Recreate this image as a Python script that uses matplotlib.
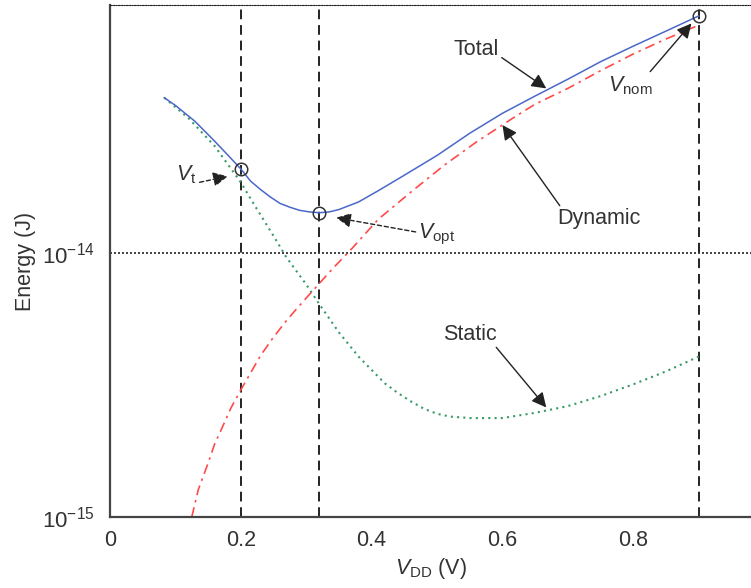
import matplotlib
matplotlib.use("Agg")
import matplotlib.pyplot as plt

plt.rcParams['font.family'] = ['Liberation Sans', 'DejaVu Sans']
plt.rcParams['mathtext.fontset'] = 'custom'
plt.rcParams['mathtext.rm'] = 'Liberation Sans'
plt.rcParams['mathtext.it'] = 'Liberation Sans:italic'

# energy per operation vs supply voltage (J)
total_v = [0.083, 0.10, 0.13, 0.16, 0.18, 0.20, 0.215, 0.23, 0.245, 0.26, 0.275,
           0.29, 0.305, 0.32, 0.335, 0.35, 0.38, 0.41, 0.45, 0.50, 0.55, 0.60,
           0.65, 0.70, 0.75, 0.80, 0.85, 0.90]
total_e = [3.87e-14, 3.62e-14, 3.15e-14, 2.65e-14, 2.35e-14, 2.08e-14, 1.87e-14,
           1.74e-14, 1.63e-14, 1.54e-14, 1.49e-14, 1.45e-14, 1.43e-14, 1.42e-14,
           1.43e-14, 1.46e-14, 1.56e-14, 1.72e-14, 1.97e-14, 2.34e-14, 2.84e-14,
           3.38e-14, 3.93e-14, 4.55e-14, 5.30e-14, 6.07e-14, 6.92e-14, 7.90e-14]

dyn_v = [0.125, 0.135, 0.15, 0.16, 0.17, 0.185, 0.20, 0.23, 0.25, 0.27, 0.285,
         0.30, 0.34, 0.37, 0.41, 0.46, 0.51, 0.56, 0.62, 0.65, 0.70, 0.75, 0.80,
         0.85, 0.895]
dyn_e = [1.0e-15, 1.27e-15, 1.6e-15, 1.89e-15, 2.14e-15, 2.59e-15, 3.03e-15,
         4.08e-15, 4.8e-15, 5.55e-15, 6.13e-15, 6.75e-15, 8.7e-15, 1.04e-14,
         1.34e-14, 1.70e-14, 2.14e-14, 2.63e-14, 3.29e-14, 3.66e-14, 4.20e-14,
         4.90e-14, 5.67e-14, 6.46e-14, 7.20e-14]

static_v = [0.083, 0.12, 0.16, 0.20, 0.22, 0.25, 0.27, 0.30, 0.32, 0.35, 0.38,
            0.42, 0.44, 0.46, 0.48, 0.50, 0.52, 0.55, 0.60, 0.65, 0.70, 0.75,
            0.80, 0.85, 0.90]
static_e = [3.87e-14, 3.24e-14, 2.54e-14, 1.85e-14, 1.53e-14, 1.16e-14, 9.6e-15,
            7.6e-15, 6.4e-15, 5.0e-15, 4.05e-15, 3.21e-15, 2.95e-15, 2.74e-15,
            2.57e-15, 2.46e-15, 2.40e-15, 2.37e-15, 2.37e-15, 2.48e-15, 2.63e-15,
            2.87e-15, 3.18e-15, 3.56e-15, 4.05e-15]

# marked operating points: threshold, optimum, nominal
mark_v = [0.20, 0.32, 0.90]
mark_e = [2.08e-14, 1.42e-14, 7.90e-14]

xticks = [0, 0.2, 0.4, 0.6, 0.8]
yticks = [1e-15, 1e-14]
ytick_labels = [r'$10^{-15}$', r'$10^{-14}$']

txt = '#333333'

fig = plt.figure(figsize=(7.51, 5.88), dpi=100)
ax = fig.add_axes([110 / 751, 71 / 588, 641 / 751, 512 / 588])
ax.set_yscale('log')
ax.set_xlim(0, 0.98)
ax.set_ylim(1e-15, 8.69e-14)

# reference lines
for v in mark_v:
    ax.axvline(v, color='#222222', lw=1.4, linestyle=(0, (5, 3)), zorder=1)
ax.axhline(1e-14, color='#222222', lw=1.2, linestyle=(0, (1.2, 1.2)), zorder=1)

ax.plot(static_v, static_e, color='#3a9a68', lw=1.5, linestyle=(0, (1, 2)), zorder=2)
ax.plot(dyn_v, dyn_e, color='#ff4a4a', lw=1.2, linestyle=(0, (6, 3, 1.5, 3)), zorder=2)
ax.plot(total_v, total_e, color='#4a68c8', lw=1.1, zorder=3)
ax.plot(mark_v, mark_e, 'o', ms=9, mfc='none', mec='#333333', mew=1.1, zorder=4)

# curve labels
arrow = dict(arrowstyle='-|>', color='#222222', lw=1.0, mutation_scale=22,
             shrinkA=0, shrinkB=0)
arrow_dash = dict(arrow, linestyle=(0, (3, 2)))

ax.annotate('Total', xy=(0.667, 4.2e-14), xytext=(0.56, 5.9e-14),
            fontsize=15.5, color=txt, ha='center', va='center',
            arrowprops=dict(arrow, relpos=(1.0, 0.2)))
ax.annotate('Dynamic', xy=(0.60, 3.05e-14), xytext=(0.748, 1.345e-14),
            fontsize=15.5, color=txt, ha='center', va='center',
            arrowprops=dict(arrow, relpos=(0.05, 1.0)))
ax.annotate('Static', xy=(0.667, 2.6e-15), xytext=(0.55, 4.93e-15),
            fontsize=15.5, color=txt, ha='center', va='center',
            arrowprops=dict(arrow, relpos=(0.95, 0.0)))
ax.annotate(r'$V_{\mathrm{nom}}$', xy=(0.889, 7.4e-14), xytext=(0.795, 4.3e-14),
            fontsize=15.5, color=txt, ha='center', va='center',
            arrowprops=dict(arrow, relpos=(0.9, 1.0)))
ax.annotate(r'$V_{\mathrm{opt}}$', xy=(0.346, 1.36e-14), xytext=(0.50, 1.17e-14),
            fontsize=15.5, color=txt, ha='center', va='center',
            arrowprops=dict(arrow_dash, relpos=(0.0, 0.6)))
ax.annotate(r'$V_{\mathrm{t}}$', xy=(0.18, 1.95e-14), xytext=(0.117, 1.97e-14),
            fontsize=15.5, color=txt, ha='center', va='center',
            arrowprops=dict(arrow_dash, relpos=(0.95, 0.15)))

ax.set_xticks(xticks)
ax.set_xticklabels([f'{t:g}' for t in xticks])
ax.set_yticks(yticks)
ax.set_yticklabels(ytick_labels)
ax.minorticks_off()
ax.tick_params(axis='both', length=0, labelcolor=txt)
ax.tick_params(axis='x', pad=9, labelsize=15.5)
ax.tick_params(axis='y', pad=11, labelsize=16)

ax.set_xlabel(r'$V_{\mathrm{DD}}$ (V)', fontsize=15.5, color=txt, labelpad=4)
ax.set_ylabel('Energy (J)', fontsize=15.5, color=txt, labelpad=4)

ax.spines['right'].set_visible(False)
ax.spines['top'].set_linestyle((0, (1.2, 1.2)))
ax.spines['top'].set_color('#222222')
for side in ['left', 'bottom']:
    ax.spines[side].set_color('#444444')
    ax.spines[side].set_linewidth(1.6)

fig.savefig('out.png', dpi=100)
